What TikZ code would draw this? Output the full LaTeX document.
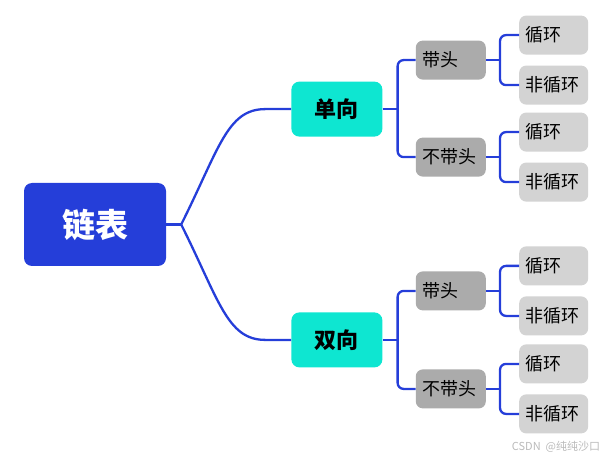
\documentclass[tikz,border=0pt]{standalone}
\usepackage{fontspec}
\newfontfamily\cjk{Noto Sans CJK SC}
\usepackage{xcolor}
\usepackage{tikz}
\usetikzlibrary{positioning}
\definecolor{mapblue}{RGB}{37,62,217}
\definecolor{mapcyan}{RGB}{14,230,209}
\definecolor{mapgray}{RGB}{171,171,171}
\definecolor{maplight}{RGB}{211,211,211}

\begin{document}
\begin{tikzpicture}[
  node distance=33pt,
  main/.style={rounded corners=8pt,fill=mapblue,text=white,minimum width=142pt,
               minimum height=83pt,font=\cjk\bfseries\fontsize{33}{36}\selectfont},
  topic/.style={rounded corners=8pt,fill=mapcyan,minimum width=91pt,
                minimum height=55pt,font=\cjk\bfseries\fontsize{22}{24}\selectfont},
  sub/.style={rounded corners=7pt,fill=mapgray,text width=56pt,inner xsep=7pt,
              minimum height=39pt,align=left,font=\cjk\fontsize{18}{20}\selectfont},
  leaf/.style={sub,fill=maplight,text width=57pt,inner xsep=6pt},
  link/.style={draw=mapblue,line width=2.3pt},
  branch/.style={link,rounded corners=6pt}
]
\useasboundingbox (0,0) rectangle (607pt,458pt);
\node[main] (list) at (95pt,233.5pt) {链表};
\node[topic,above right=46pt and 125pt of list] (single) {单向};
\node[topic,below right=46pt and 125pt of list] (double) {双向};
% second level
\node[sub,right=of single,yshift=49pt] (shead) {带头};
\node[sub,right=of single,yshift=-48pt] (snohead) {不带头};
\node[sub,right=of double,yshift=49pt] (dhead) {带头};
\node[sub,right=of double,yshift=-49pt] (dnohead) {不带头};
% leaves
\node[leaf,right=of shead,yshift=25pt] (shcyc) {循环};
\node[leaf,right=of shead,yshift=-25pt] (shacyc) {非循环};
\node[leaf,right=of snohead,yshift=25pt] (sncyc) {循环};
\node[leaf,right=of snohead,yshift=-25pt] (snacyc) {非循环};
\node[leaf,right=of dhead,yshift=25pt] (dhcyc) {循环};
\node[leaf,right=of dhead,yshift=-25pt] (dhacyc) {非循环};
\node[leaf,right=of dnohead,yshift=25pt] (dncyc) {循环};
\node[leaf,right=of dnohead,yshift=-25pt] (dnacyc) {非循环};
\node[text=black!27,font=\cjk\fontsize{11}{12}\selectfont] (mark) at (556pt,11pt)
  {CSDN\ \ @纯纯沙口};
% connectors
\draw[link] (list.east) -- ++(15pt,0) coordinate (fork);
\draw[link] (fork) .. controls +(38pt,76pt) and +(-38pt,0pt) ..
  ([xshift=-26pt]single.west) -- (single.west);
\draw[link] (fork) .. controls +(38pt,-76pt) and +(-38pt,0pt) ..
  ([xshift=-26pt]double.west) -- (double.west);
\draw[link] (single.east) -- ++(15pt,0) coordinate (sfork);
\draw[branch] (sfork) |- (shead.west);
\draw[branch] (sfork) |- (snohead.west);
\draw[link] (double.east) -- ++(15pt,0) coordinate (dfork);
\draw[branch] (dfork) |- (dhead.west);
\draw[branch] (dfork) |- (dnohead.west);
\draw[link] (shead.east) -- ++(14pt,0) coordinate (shfork);
\draw[branch] (shfork) |- (shcyc.west);
\draw[branch] (shfork) |- (shacyc.west);
\draw[link] (snohead.east) -- ++(14pt,0) coordinate (snfork);
\draw[branch] (snfork) |- (sncyc.west);
\draw[branch] (snfork) |- (snacyc.west);
\draw[link] (dhead.east) -- ++(14pt,0) coordinate (dhfork);
\draw[branch] (dhfork) |- (dhcyc.west);
\draw[branch] (dhfork) |- (dhacyc.west);
\draw[link] (dnohead.east) -- ++(14pt,0) coordinate (dnfork);
\draw[branch] (dnfork) |- (dncyc.west);
\draw[branch] (dnfork) |- (dnacyc.west);
\end{tikzpicture}
\end{document}
